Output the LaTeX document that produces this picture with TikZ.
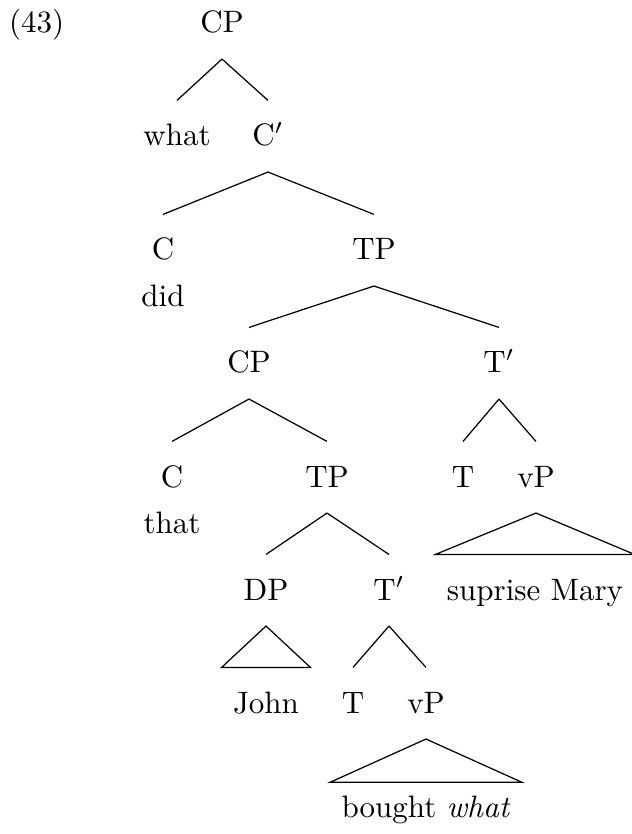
\documentclass[tikz,border=0pt]{standalone}
\usepackage{amsmath}
\usepackage{tikz}
\usetikzlibrary{positioning}

\begin{document}
\begin{tikzpicture}[
    x=0.3226pt, y=-0.3226pt,
    lbl/.style={anchor=base, inner sep=0pt, text height=14.5pt, text depth=8.2pt},
    roof/.style={lbl, inner xsep=3.5pt}
]
\useasboundingbox (0,0) rectangle (631,834);

% Example number
\node[anchor=base west, inner sep=0pt] (ex) at (8.5,33) {(43)};

% Labels
\node[lbl] (cp) at (222,33) {CP};
\node[lbl] (what) at (177,146) {what};
\node[lbl] (cbar) at (268,146) {C$'$};
\node[lbl] (c) at (163,260) {C};
\node[lbl] (tp) at (374,260) {TP};
\node[lbl] (did) at (163,307) {did};
\node[lbl] (cpb) at (249,373) {CP};
\node[lbl] (tbar) at (499,373) {T$'$};
\node[lbl] (cb) at (172,487) {C};
\node[lbl] (tpb) at (327,487) {TP};
\node[lbl] (t) at (463,487) {T};
\node[lbl] (vp) at (536,487) {vP};
\node[lbl] (that) at (172,533) {that};
\node[lbl] (dp) at (266,600) {DP};
\node[lbl] (tbarb) at (389,600) {T$'$};
\node[roof] (mary) at (535,600) {suprise Mary};
\node[roof] (john) at (266,713) {John};
\node[lbl] (tb) at (353,713) {T};
\node[lbl] (vpb) at (426,713) {vP};
\node[roof, text height=11pt] (bought) at (426,817) {bought \textit{what}};

% Branches
\draw (cp.south) -- (what.north);
\draw (cp.south) -- (cbar.north);
\draw (cbar.south) -- (c.north);
\draw (cbar.south) -- (tp.north);
\draw (tp.south) -- (cpb.north);
\draw (tp.south) -- (tbar.north);
\draw (cpb.south) -- (cb.north);
\draw (cpb.south) -- (tpb.north);
\draw (tbar.south) -- (t.north);
\draw (tbar.south) -- (vp.north);
\draw (tpb.south) -- (dp.north);
\draw (tpb.south) -- (tbarb.north);
\draw (tbarb.south) -- (tb.north);
\draw (tbarb.south) -- (vpb.north);

% Roofs
\draw (vp.south) -- (mary.north west) -- (mary.north east) -- cycle;
\draw (dp.south) -- (john.north west) -- (john.north east) -- cycle;
\draw (vpb.south) -- (bought.north west) -- (bought.north east) -- cycle;

\end{tikzpicture}
\end{document}
